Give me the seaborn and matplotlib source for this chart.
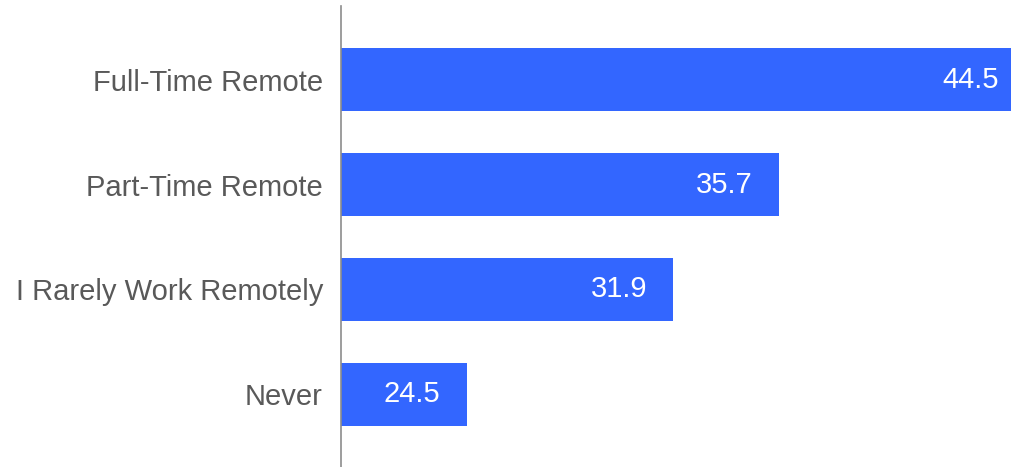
import matplotlib
matplotlib.use("Agg")
import matplotlib.pyplot as plt
import seaborn as sns
import pandas as pd

categories = ["Full-Time Remote", "Part-Time Remote", "I Rarely Work Remotely", "Never"]
values = [44.5, 35.7, 31.9, 24.5]

df = pd.DataFrame({"category": categories, "value": values})

sns.set_theme(style="white")
plt.rcParams["font.family"] = ["Liberation Sans", "DejaVu Sans"]

fig = plt.figure(figsize=(10.11, 4.67), dpi=100)
ax = fig.add_axes([341 / 1011, 0.0, 1 - 341 / 1011, 1 - 6 / 467])

sns.barplot(data=df, x="value", y="category", orient="h", color="#3366FF",
            saturation=1, width=0.6, ax=ax, edgecolor="none")

xmin, xmax = 20, 43.99
ax.set_xlim(xmin, xmax)
ax.set_ylim(3.695, -0.705)

for i, v in enumerate(values):
    ax.annotate(f"{v}", xy=(v, i), xytext=(-19, 0), textcoords="offset points",
                ha="right", va="center", color="white", fontsize=21,
                annotation_clip=False)

ax.set_xlabel("")
ax.set_ylabel("")
ax.set_xticks([])
ax.tick_params(axis="y", length=0, pad=13, labelsize=21, labelcolor="#595959")
for s in ["top", "right", "bottom"]:
    ax.spines[s].set_visible(False)
ax.spines["left"].set_color("#8c8c8c")
ax.spines["left"].set_linewidth(1.2)

fig.savefig("out.png", dpi=100)
